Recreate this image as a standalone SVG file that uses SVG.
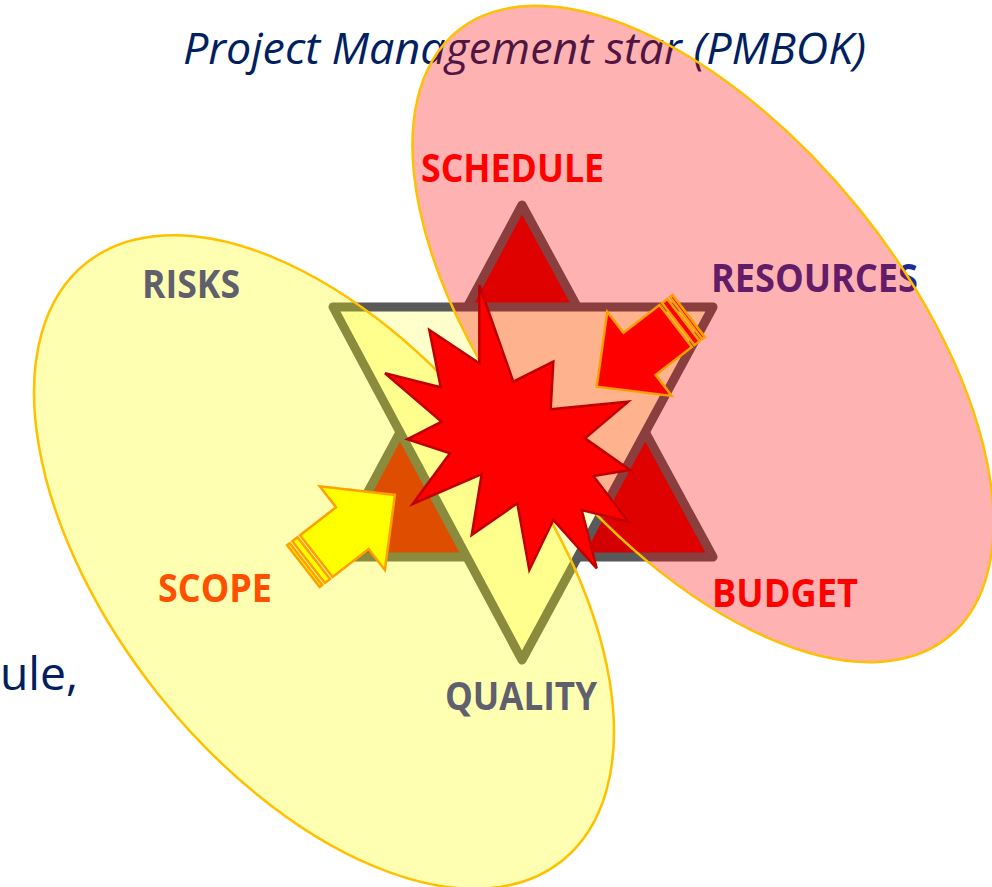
<svg xmlns="http://www.w3.org/2000/svg" width="992" height="887" viewBox="0 0 992 887">
<style>
.lbl{font-family:"Open Sans","Liberation Sans",sans-serif;font-weight:bold;font-size:40px}
.blue{font-family:"Open Sans","Liberation Sans",sans-serif;fill:#002060}
.tri{stroke:#595959;stroke-width:9;stroke-linejoin:round}
.ell{stroke:#FFC000;stroke-width:2.5;fill-opacity:0.3}
.arr{stroke:#FFA000;stroke-width:2.5;stroke-linejoin:miter}
</style>
<defs>
<g id="sarrow">
<rect x="0" y="-26.5" width="3.3" height="53"/>
<rect x="6.6" y="-26.5" width="6.5" height="53"/>
<path d="M16.4,-26.5 L62,-26.5 L62,-53 L116,0 L62,53 L62,26.5 L16.4,26.5 Z"/>
</g>
</defs>
<rect width="992" height="887" fill="#ffffff"/>
<g id="title">
<text class="blue" x="183" y="64" font-size="44" font-style="italic" textLength="683" lengthAdjust="spacingAndGlyphs">Project Management star (PMBOK)</text>
</g>
<g id="side-text">
<text class="blue" x="0" y="690" font-size="46" textLength="78" lengthAdjust="spacingAndGlyphs">ule,</text>
</g>
<g id="label-resources">
<text class="lbl" x="711" y="292" fill="#1F2A96" textLength="207" lengthAdjust="spacingAndGlyphs">RESOURCES</text>
</g>
<g id="star">
<polygon class="tri" fill="#D20000" points="522,205 713,557 333,557"/>
<polygon class="tri" fill="#FFFFCC" points="333,307 713,307 522,660"/>
</g>
<g id="ellipse-yellow">
<ellipse class="ell" cx="324" cy="562" rx="382" ry="212" transform="rotate(51.5 324 562)" fill="#FFFF00"/>
</g>
<g id="ellipse-pink">
<ellipse class="ell" cx="703" cy="334" rx="390" ry="200" transform="rotate(51 703 334)" fill="#FF0000" fill-opacity="0.31"/>
</g>
<g id="explosion">
<polygon fill="#FF0000" stroke="#C00000" stroke-width="2.5" stroke-linejoin="miter" points="479.3,285 513.3,381.7 553.3,361.7 550.7,409.3 628.3,401.7 585,438.3 630,470 593.3,476 628.3,521.7 581.7,510 596.7,568.3 553.3,520 529.3,570 517.3,503.3 471.7,535 481.7,474 412.7,504 450,453.3 407.3,439.3 441.7,421.7 385,373.3 440.7,387.3 429.3,330 479.3,363.3"/>
</g>
<g id="connectors">
<use href="#sarrow" class="arr" fill="#FF0000" transform="translate(688.7,316.1) rotate(142.5)"/>
<use href="#sarrow" class="arr" fill="#FFFF00" transform="translate(303.4,566.2) rotate(-37.9)"/>
</g>
<g id="label-schedule"><text class="lbl" x="421" y="182" fill="#FF0000" textLength="183" lengthAdjust="spacingAndGlyphs">SCHEDULE</text></g>
<g id="label-risks"><text class="lbl" x="142" y="298" fill="#5F5F6D" textLength="98" lengthAdjust="spacingAndGlyphs">RISKS</text></g>
<g id="label-scope"><text class="lbl" x="158" y="602" fill="#FF5000" textLength="114" lengthAdjust="spacingAndGlyphs">SCOPE</text></g>
<g id="label-budget"><text class="lbl" x="712" y="607" fill="#FF0000" textLength="146" lengthAdjust="spacingAndGlyphs">BUDGET</text></g>
<g id="label-quality"><text class="lbl" x="445" y="710" fill="#5F5F6D" textLength="152" lengthAdjust="spacingAndGlyphs">QUALITY</text></g>
</svg>
